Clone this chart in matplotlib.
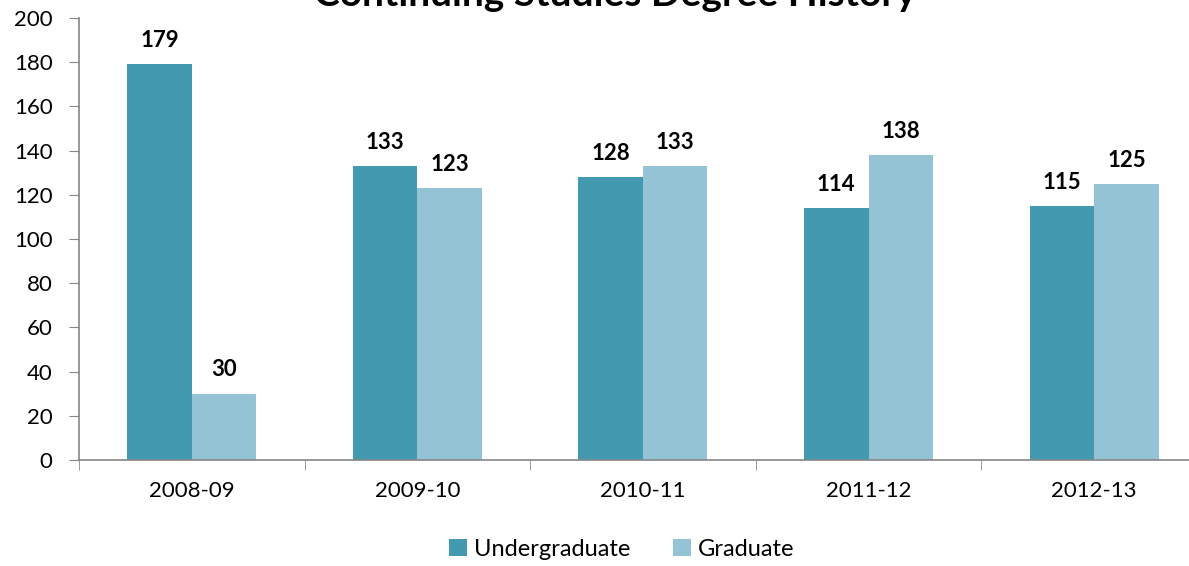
import numpy as np
import matplotlib.pyplot as plt

plt.rcParams['font.family'] = ['Lato', 'DejaVu Sans']

# Data
years = ['2008-09', '2009-10', '2010-11', '2011-12', '2012-13']
undergrad = [179, 133, 128, 114, 115]
grad = [30, 123, 133, 138, 125]

c_ug = '#4299B0'
c_gr = '#93C3D4'

fig = plt.figure(figsize=(11.89, 5.66), dpi=100)
ax = fig.add_axes([0.0664, 0.1873, 0.9487, 0.7809])

x = np.arange(len(years))
w = 0.286
b1 = ax.bar(x - w / 2, undergrad, w, color=c_ug, label='Undergraduate')
b2 = ax.bar(x + w / 2, grad, w, color=c_gr, label='Graduate')

for bars, vals in ((b1, undergrad), (b2, grad)):
    for r, v in zip(bars, vals):
        ax.annotate(str(v), (r.get_x() + r.get_width() / 2, v),
                    xytext=(0, 9.5), textcoords='offset points',
                    ha='center', va='bottom', fontsize=16, fontweight='bold')

ax.set_xlim(-0.5, len(years) - 0.5)
ax.set_ylim(0, 200)
ax.set_yticks(range(0, 201, 20))
ax.set_xticks(x)
ax.set_xticklabels(years)
ax.set_xticks(np.arange(-0.5, len(years)), minor=True)

for s in ('top', 'right'):
    ax.spines[s].set_visible(False)
for s in ('left', 'bottom'):
    ax.spines[s].set_color('#868686')
    ax.spines[s].set_linewidth(1.2)

ax.tick_params(axis='y', length=7, color='#868686', labelsize=16, pad=12)
ax.tick_params(axis='x', which='major', length=0, labelsize=16, pad=15)
ax.tick_params(axis='x', which='minor', length=7, color='#868686')

# title is clipped at the top edge, as in the original
fig.text(0.517, 0.9894, 'Continuing Studies Degree History', ha='center', va='baseline',
         fontsize=28, fontweight='bold')

fig.legend(handles=[b1, b2], loc='center', bbox_to_anchor=(0.523, 0.03), ncol=2,
           frameon=False, fontsize=17, handlelength=0.75, handleheight=0.75,
           handletextpad=0.3, columnspacing=1.8)

fig.savefig('out.png', dpi=100)
